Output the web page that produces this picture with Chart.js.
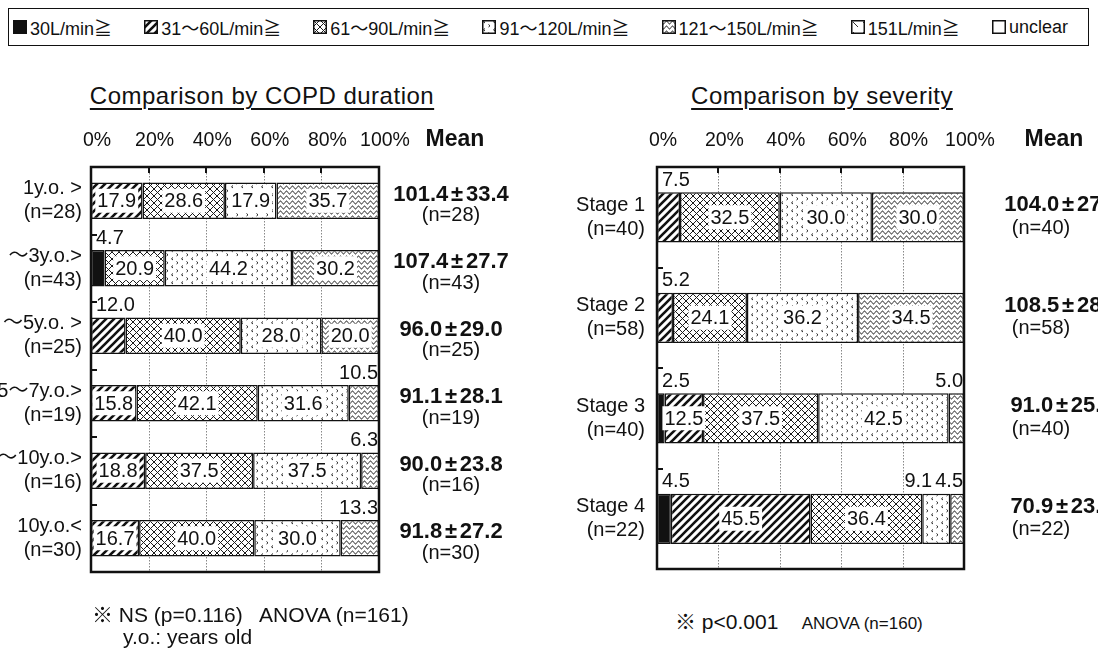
<!DOCTYPE html>
<html>
<head>
<meta charset="utf-8">
<script src="https://cdn.jsdelivr.net/npm/chart.js@4/dist/chart.umd.min.js"></script>
<style>
  html, body { margin:0; padding:0; background:#fff; }
  body { width:1098px; height:654px; position:relative; overflow:hidden; color:#111;
         font-family:'Liberation Sans', Arial, 'Noto Sans CJK JP', sans-serif; }
  #legend { position:absolute; left:8px; top:8px; width:1081px; height:38px; box-sizing:border-box;
            border:1.5px solid #111; display:flex; align-items:center; justify-content:space-between;
            padding:0 20px 0 4px; font-size:18px; }
  #legend .item { display:flex; align-items:center; white-space:nowrap; }
  #legend canvas { width:14px; height:14px; margin-right:3px; }
  .title { position:absolute; top:82px; font-size:24px; letter-spacing:0.5px; text-decoration:underline;
           text-decoration-thickness:1.5px; text-underline-offset:4px; white-space:nowrap; transform:translateX(-50%); }
  .note { position:absolute; font-size:21px; white-space:nowrap; }
  .wrap { position:absolute; top:105px; height:500px; }
</style>
</head>
<body>
<div id="legend"></div>
<div class="title" style="left:262px;">Comparison by COPD duration</div>
<div class="title" style="left:822px;">Comparison by severity</div>

<div class="wrap" style="left:0; width:540px;"><canvas id="c1" width="540" height="500"></canvas></div>
<div class="wrap" style="left:560px; width:538px;"><canvas id="c2" width="538" height="500"></canvas></div>

<div class="note" style="left:92px; top:598px;">※ NS (p=0.116)&nbsp;&nbsp; ANOVA (n=161)</div>
<div class="note" style="left:123px; top:625px;">y.o.: years old</div>
<div class="note" style="left:675px; top:605px;">※ p&lt;0.001 &nbsp; &nbsp;<span style="font-size:17px;">ANOVA (n=160)</span></div>

<script>
// ---------------- DATA ----------------
const flowBands = ['30L/min≧', '31～60L/min≧', '61～90L/min≧', '91～120L/min≧', '121～150L/min≧', '151L/min≧', 'unclear'];
const percentTicks = [0, 20, 40, 60, 80, 100];

// Comparison by COPD duration
const durationGroups = ['1y.o. >', '～3y.o.>', '～5y.o. >', '5～7y.o.>', '～10y.o.>', '10y.o.<'];
const durationN = [28, 43, 25, 19, 16, 30];
const durationLe30   = [0, 4.7, 0, 0, 0, 0];
const duration31_60  = [17.9, 0, 12.0, 15.8, 18.8, 16.7];
const duration61_90  = [28.6, 20.9, 40.0, 42.1, 37.5, 40.0];
const duration91_120 = [17.9, 44.2, 28.0, 31.6, 37.5, 30.0];
const duration121_150= [35.7, 30.2, 20.0, 10.5, 6.3, 13.3];
const duration151    = [0, 0, 0, 0, 0, 0];
const durationUnclear= [0, 0, 0, 0, 0, 0];
const durationMean = [101.4, 107.4, 96.0, 91.1, 90.0, 91.8];
const durationSD   = [33.4, 27.7, 29.0, 28.1, 23.8, 27.2];

// Comparison by severity
const severityGroups = ['Stage 1', 'Stage 2', 'Stage 3', 'Stage 4'];
const severityN = [40, 58, 40, 22];
const severityLe30   = [0, 0, 2.5, 4.5];
const severity31_60  = [7.5, 5.2, 12.5, 45.5];
const severity61_90  = [32.5, 24.1, 37.5, 36.4];
const severity91_120 = [30.0, 36.2, 42.5, 9.1];
const severity121_150= [30.0, 34.5, 5.0, 4.5];
const severity151    = [0, 0, 0, 0];
const severityUnclear= [0, 0, 0, 0];
const severityMean = [104.0, 108.5, 91.0, 70.9];
const severitySD   = [27.3, 28.6, 25.2, 23.4];   // last digits are cut off in the source

// ---------------- PATTERNS ----------------
const patternKinds = ['solid', 'hatch', 'cross', 'dots', 'wave', 'slash', 'white'];
function makeTile(kind) {
  const c = document.createElement('canvas');
  const g = c.getContext('2d');
  if (kind === 'hatch') {
    c.width = 8; c.height = 8;
    g.fillStyle = '#fff'; g.fillRect(0,0,8,8);
    g.strokeStyle = '#111'; g.lineWidth = 2.6; g.lineCap = 'square';
    g.beginPath();
    g.moveTo(-2,10); g.lineTo(10,-2);
    g.moveTo(-6,6); g.lineTo(6,-6);
    g.moveTo(2,14); g.lineTo(14,2);
    g.stroke();
  } else if (kind === 'cross') {
    c.width = 7; c.height = 7;
    g.fillStyle = '#fff'; g.fillRect(0,0,7,7);
    g.strokeStyle = '#1a1a1a'; g.lineWidth = 1;
    g.beginPath();
    g.moveTo(0,0); g.lineTo(7,7);
    g.moveTo(7,0); g.lineTo(0,7);
    g.stroke();
  } else if (kind === 'dots') {
    c.width = 10; c.height = 8;
    g.fillStyle = '#fff'; g.fillRect(0,0,10,8);
    g.strokeStyle = '#222'; g.lineWidth = 1;
    g.beginPath();
    g.moveTo(3,0.5); g.lineTo(1.5,1.8); g.lineTo(3,3);
    g.moveTo(6.5,4.5); g.lineTo(8,5.8); g.lineTo(6.5,7);
    g.stroke();
  } else if (kind === 'wave') {
    c.width = 6; c.height = 5;
    g.fillStyle = '#fff'; g.fillRect(0,0,6,5);
    g.strokeStyle = '#1a1a1a'; g.lineWidth = 1;
    g.beginPath();
    for (let x = -0.5; x <= 6.5; x += 0.5) {
      const y = 2.5 + 1.5 * Math.sin(x / 6 * Math.PI * 2);
      if (x === -0.5) g.moveTo(x, y); else g.lineTo(x, y);
    }
    g.stroke();
  } else if (kind === 'slash') {
    c.width = 10; c.height = 10;
    g.fillStyle = '#fff'; g.fillRect(0,0,10,10);
    g.strokeStyle = '#333'; g.lineWidth = 1;
    g.beginPath(); g.moveTo(2,2); g.lineTo(7,7); g.stroke();
  } else {
    c.width = 4; c.height = 4;
    g.fillStyle = kind === 'solid' ? '#111' : '#fff';
    g.fillRect(0,0,4,4);
  }
  return c;
}
const scratch = document.createElement('canvas').getContext('2d');
const fills = patternKinds.map(k => (k === 'solid' ? '#111' : k === 'white' ? '#fff' : scratch.createPattern(makeTile(k), 'repeat')));

// ---------------- LEGEND (HTML) ----------------
const legendEl = document.getElementById('legend');
flowBands.forEach((name, i) => {
  const item = document.createElement('span'); item.className = 'item';
  const cv = document.createElement('canvas'); cv.width = 14; cv.height = 14;
  const g = cv.getContext('2d');
  g.fillStyle = g.createPattern(makeTile(patternKinds[i]), 'repeat');
  g.fillRect(0,0,14,14);
  g.strokeStyle = '#111'; g.lineWidth = 1.5; g.strokeRect(0.75,0.75,12.5,12.5);
  const tx = document.createElement('span'); tx.textContent = name;
  item.appendChild(cv); item.appendChild(tx);
  legendEl.appendChild(item);
});

// ---------------- CHART HELPERS ----------------
const FONT = "'Liberation Sans', Arial, 'Noto Sans CJK JP', sans-serif";

function drawMean(ctx, cx, cy, a, b, size) {
  ctx.font = `bold ${size}px ${FONT}`;
  const wa = ctx.measureText(a).width, wb = ctx.measureText(b).width, wp = size * 0.8;
  let x = cx - (wa + wp + wb) / 2;
  ctx.textAlign = 'left'; ctx.fillText(a, x, cy); x += wa;
  ctx.textAlign = 'center'; ctx.fillText('±', x + wp / 2, cy); x += wp;
  ctx.textAlign = 'left'; ctx.fillText(b, x, cy);
}

const decorPlugin = {
  id: 'decor',
  beforeDatasetsDraw(chart) {
    const { ctx, chartArea: a, scales: { x } } = chart;
    ctx.save();
    ctx.strokeStyle = '#888'; ctx.lineWidth = 1; ctx.setLineDash([1.5, 1.5]);
    percentTicks.forEach(v => {
      if (v <= 0 || v >= 100) return;
      const px = Math.round(x.getPixelForValue(v)) + 0.5;
      ctx.beginPath(); ctx.moveTo(px, a.top); ctx.lineTo(px, a.bottom); ctx.stroke();
    });
    ctx.restore();
  },
  afterDatasetsDraw(chart, args, opts) {
    const { ctx, chartArea: a } = chart;
    const nCat = chart.data.labels.length;
    const nDs = chart.data.datasets.length;
    ctx.save();
    ctx.font = `20px ${FONT}`;
    ctx.fillStyle = '#111';
    ctx.textBaseline = 'middle';
    for (let i = 0; i < nCat; i++) {
      const segs = [];
      for (let d = 0; d < nDs; d++) {
        const v = opts.values[d][i];
        if (v > 0) {
          const el = chart.getDatasetMeta(d).data[i].getProps(['x', 'y', 'base', 'height'], true);
          segs.push({ v, el });
        }
      }
      let runStart = segs.length;
      while (runStart > 1 && segs[runStart - 1].v < 15) runStart--;
      let rightEdge = a.right - 1;
      for (let k = segs.length - 1; k >= 0; k--) {
        const s = segs[k];
        const txt = s.v.toFixed(1);
        const w = ctx.measureText(txt).width;
        const top = s.el.y - s.el.height / 2;
        if (k >= runStart) {
          ctx.textAlign = 'right';
          ctx.fillText(txt, rightEdge, top - 12);
          rightEdge -= w + 3;
        } else if (k === 0 && s.v < 15) {
          ctx.textAlign = 'left';
          ctx.fillText(txt, a.left + 5, top - 12);
        } else {
          const cx = (s.el.x + s.el.base) / 2;
          ctx.fillStyle = '#fff';
          ctx.fillRect(cx - w / 2 - 2, s.el.y - 12, w + 4, 24);
          ctx.fillStyle = '#111';
          ctx.textAlign = 'center';
          ctx.fillText(txt, cx, s.el.y + 1);
        }
      }
    }
    ctx.restore();
  },
  afterDraw(chart, args, opts) {
    const { ctx, chartArea: a, scales: { x, y } } = chart;
    const nCat = chart.data.labels.length;
    ctx.save();
    ctx.strokeStyle = '#111'; ctx.lineWidth = 2.5;
    ctx.strokeRect(a.left, a.top, a.right - a.left, a.bottom - a.top);
    ctx.lineWidth = 2;
    percentTicks.forEach(v => {
      if (v <= 0 || v >= 100) return;
      const px = Math.round(x.getPixelForValue(v));
      ctx.beginPath(); ctx.moveTo(px, a.top); ctx.lineTo(px, a.top + 6); ctx.stroke();
    });
    const step = (a.bottom - a.top) / nCat;
    for (let k = 1; k < nCat; k++) {
      const py = Math.round(a.top + k * step);
      ctx.beginPath(); ctx.moveTo(a.left, py); ctx.lineTo(a.left + 6, py); ctx.stroke();
    }
    // Mean column
    const mx = a.right + opts.meanX;
    ctx.fillStyle = '#111';
    ctx.textBaseline = 'middle';
    ctx.textAlign = 'center';
    ctx.font = `bold 23px ${FONT}`;
    ctx.fillText('Mean', a.right + opts.headX, a.top - 27);
    for (let i = 0; i < nCat; i++) {
      const cy = y.getPixelForValue(i);
      drawMean(ctx, mx, cy + opts.meanDy, opts.mean[i].toFixed(1), opts.sd[i].toFixed(1), 22);
      ctx.font = `20px ${FONT}`;
      ctx.textAlign = 'center';
      ctx.fillText(`(n=${opts.n[i]})`, a.right + opts.nX, cy + opts.nDy);
    }
    ctx.restore();
  }
};

function buildChart(id, groups, n, series, mean, sd, dims) {
  const datasets = series.map((vals, d) => ({
    label: flowBands[d],
    data: vals.map(v => (v > 0 ? v : null)),
    backgroundColor: fills[d],
    borderColor: '#111',
    borderWidth: 1.5,
    borderSkipped: false,
    barPercentage: dims.barPct,
    categoryPercentage: 1
  }));
  return new Chart(document.getElementById(id), {
    type: 'bar',
    data: { labels: groups.map((g, i) => [g, `(n=${n[i]})`]), datasets },
    options: {
      indexAxis: 'y',
      responsive: false,
      animation: false,
      devicePixelRatio: 1,
      layout: { padding: { left: 0, right: dims.padRight, top: 0, bottom: 18 } },
      scales: {
        x: {
          position: 'top', stacked: true, min: 0, max: 100,
          afterBuildTicks: s => { s.ticks = percentTicks.map(v => ({ value: v })); },
          afterFit: s => { s.height = 62; },
          grid: { display: false, drawTicks: false },
          border: { display: false },
          ticks: { callback: v => v + '%', color: '#111', padding: 15, labelOffset: 6,
                   font: { family: FONT, size: 19.5 }, maxRotation: 0, autoSkip: false }
        },
        y: {
          stacked: true,
          afterFit: s => { s.width = dims.yWidth; },
          grid: { display: false, drawTicks: false },
          border: { display: false },
          ticks: { color: '#111', padding: dims.yPad, autoSkip: false,
                   font: { family: FONT, size: 20, lineHeight: 1.2 } }
        }
      },
      plugins: {
        legend: { display: false },
        tooltip: { enabled: false },
        decor: { values: series, mean, sd, n, meanX: dims.meanX, headX: dims.headX, nX: dims.nX,
                 meanDy: dims.meanDy, nDy: dims.nDy }
      }
    },
    plugins: [decorPlugin]
  });
}

buildChart('c1', durationGroups, durationN,
  [durationLe30, duration31_60, duration61_90, duration91_120, duration121_150, duration151, durationUnclear],
  durationMean, durationSD,
  { barPct: 0.54, padRight: 161, yWidth: 91, yPad: 9, meanX: 72, headX: 76, nX: 72, meanDy: -6, nDy: 15 });

buildChart('c2', severityGroups, severityN,
  [severityLe30, severity31_60, severity61_90, severity91_120, severity121_150, severity151, severityUnclear],
  severityMean, severitySD,
  { barPct: 0.5, padRight: 134, yWidth: 97, yPad: 12, meanX: 98, headX: 90, nX: 77, meanDy: -12, nDy: 11 });
</script>
</body>
</html>
